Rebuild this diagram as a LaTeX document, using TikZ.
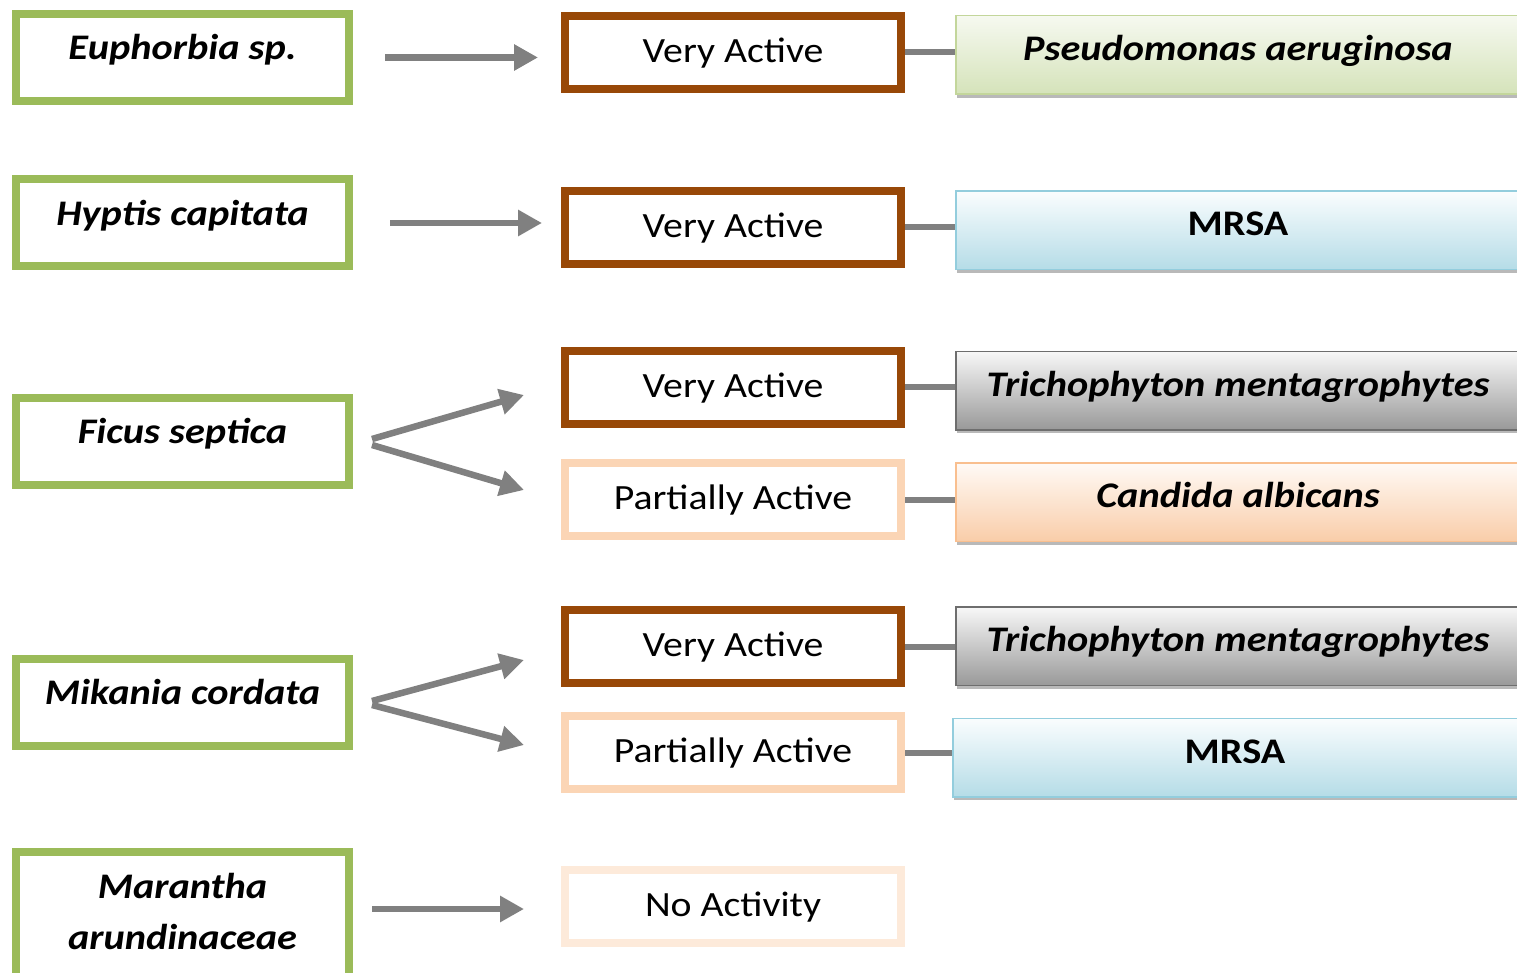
\documentclass[tikz,border=0pt]{standalone}
\usepackage{fontspec}
\setmainfont{Carlito}[FakeStretch=1.12]
\usetikzlibrary{arrows.meta,shadows}

\definecolor{leafgreen}{HTML}{9BBB59}
\definecolor{rust}{HTML}{984807}
\definecolor{peach}{HTML}{FBD5B5}
\definecolor{palepeach}{HTML}{FDEADA}
\definecolor{linkgray}{HTML}{808080}
% organism box fills and rims
\definecolor{greentop}{HTML}{F6F9F0}
\definecolor{greenbot}{HTML}{D5E3BA}
\definecolor{greenrim}{HTML}{C3D69B}
\definecolor{bluetop}{HTML}{FAFDFE}
\definecolor{bluebot}{HTML}{B5DCE7}
\definecolor{bluerim}{HTML}{93CDDD}
\definecolor{graytop}{HTML}{F8F8F8}
\definecolor{graybot}{HTML}{999999}
\definecolor{grayrim}{HTML}{6E6E6E}
\definecolor{peachtop}{HTML}{FFFAF6}
\definecolor{peachbot}{HTML}{F9CDA9}
\definecolor{peachrim}{HTML}{F9BF8F}

\tikzset{
  boldit/.style={font=\fontsize{36}{42}\selectfont\bfseries\itshape},
  txt/.style={font=\fontsize{35.5}{42}\selectfont},
  plant/.style={draw=leafgreen, line width=8pt, fill=white, inner sep=0pt,
    minimum width=333pt, minimum height=87pt, boldit,
    text height=12pt, text depth=7pt},
  grade/.style={line width=8pt, fill=white, inner sep=0pt,
    minimum width=336pt, minimum height=73pt, txt,
    text height=22pt, text depth=2pt},
  very/.style={grade, draw=rust},
  partial/.style={grade, draw=peach},
  noact/.style={grade, draw=palepeach},
  microbe/.style={line width=1.5pt, inner sep=0pt, anchor=west,
    minimum width=564.5pt, minimum height=78.5pt, boldit,
    text height=16pt, text depth=5pt,
    drop shadow={shadow xshift=1.5pt, shadow yshift=-3.5pt, fill=black!50, opacity=0.55}},
  greenbug/.style={microbe, draw=greenrim, top color=greentop, bottom color=greenbot},
  bluebug/.style={microbe, draw=bluerim, top color=bluetop, bottom color=bluebot},
  graybug/.style={microbe, draw=grayrim, top color=graytop, bottom color=graybot},
  peachbug/.style={microbe, draw=peachrim, top color=peachtop, bottom color=peachbot},
  flow/.style={draw=linkgray, line width=6.5pt, -{Triangle[length=24pt,width=25pt]}},
  link/.style={draw=linkgray, line width=6pt}
}

\begin{document}
\begin{tikzpicture}[x=1pt, y=-1pt]
  \useasboundingbox (0,0) rectangle (1517,973);
  \clip (0,0) rectangle (1517,973);

  % plants
  \node[plant] (eup) at (182.5,57.5) {Euphorbia sp.};
  \node[plant] (hyp) at (182.5,223) {Hyptis capitata};
  \node[plant] (fic) at (182.5,441) {Ficus septica};
  \node[plant] (mik) at (182.5,702) {Mikania cordata};
  \node[plant, minimum height=138pt] (mar) at (182.5,921) {};
  \node[boldit, anchor=base] (marA) at (182.5,898) {Marantha};
  \node[boldit, anchor=base] (marB) at (182.5,949) {arundinaceae};

  % activity grades
  \node[very] (va1) at (733,52.5) {Very Active};
  \node[very] (va2) at (733,227.5) {Very Active};
  \node[very] (va3) at (733,387) {Very Active};
  \node[partial] (pa1) at (733,499.5) {Partially Active};
  \node[very] (va4) at (733,646.5) {Very Active};
  \node[partial] (pa2) at (733,752.5) {Partially Active};
  \node[noact] (na) at (733,906.5) {No Activity};

  % test organisms
  \node[greenbug] (pse) at (955,55) {Pseudomonas aeruginosa};
  \node[bluebug, font=\fontsize{36}{42}\selectfont\bfseries] (mrsa1) at (955,230.5) {MRSA};
  \node[graybug] (tri1) at (955,390.5) {Trichophyton mentagrophytes};
  \node[peachbug] (can) at (955,502) {Candida albicans};
  \node[graybug] (tri2) at (955,646) {Trichophyton mentagrophytes};
  \node[bluebug, font=\fontsize{36}{42}\selectfont\bfseries] (mrsa2) at (952,757.5) {MRSA};

  % grade-to-organism links
  \draw[link] (va1.east) -- (va1.east -| pse.west);
  \draw[link] (va2.east) -- (va2.east -| mrsa1.west);
  \draw[link] (va3.east) -- (va3.east -| tri1.west);
  \draw[link] (pa1.east) -- (pa1.east -| can.west);
  \draw[link] (va4.east) -- (va4.east -| tri2.west);
  \draw[link] (pa2.east) -- (pa2.east -| mrsa2.west);

  % plant-to-grade arrows
  \draw[flow, shorten <=32pt, shorten >=23pt] (eup.east) -- (eup.east -| va1.west);
  \draw[flow, shorten <=37pt, shorten >=19pt] (hyp.east) -- (hyp.east -| va2.west);

  \coordinate (ficU) at ([xshift=19pt, yshift=2pt]fic.east);
  \coordinate (ficD) at ([xshift=19pt, yshift=-4pt]fic.east);
  \coordinate (ficT1) at ([xshift=-37pt, yshift=-8pt]va3.west);
  \coordinate (ficT2) at ([xshift=-37pt, yshift=9.5pt]pa1.west);
  \draw[flow] (ficU) -- (ficT1);
  \draw[flow] (ficD) -- (ficT2);

  \coordinate (mikU) at ([xshift=19pt, yshift=1pt]mik.east);
  \coordinate (mikD) at ([xshift=19pt, yshift=-3pt]mik.east);
  \coordinate (mikT1) at ([xshift=-37pt, yshift=-13.5pt]va4.west);
  \coordinate (mikT2) at ([xshift=-37pt, yshift=7.5pt]pa2.west);
  \draw[flow] (mikU) -- (mikT1);
  \draw[flow] (mikD) -- (mikT2);

  \coordinate (marS) at ([xshift=19pt, yshift=12pt]mar.east);
  \draw[flow, shorten >=37pt] (marS) -- (marS -| na.west);
\end{tikzpicture}
\end{document}
